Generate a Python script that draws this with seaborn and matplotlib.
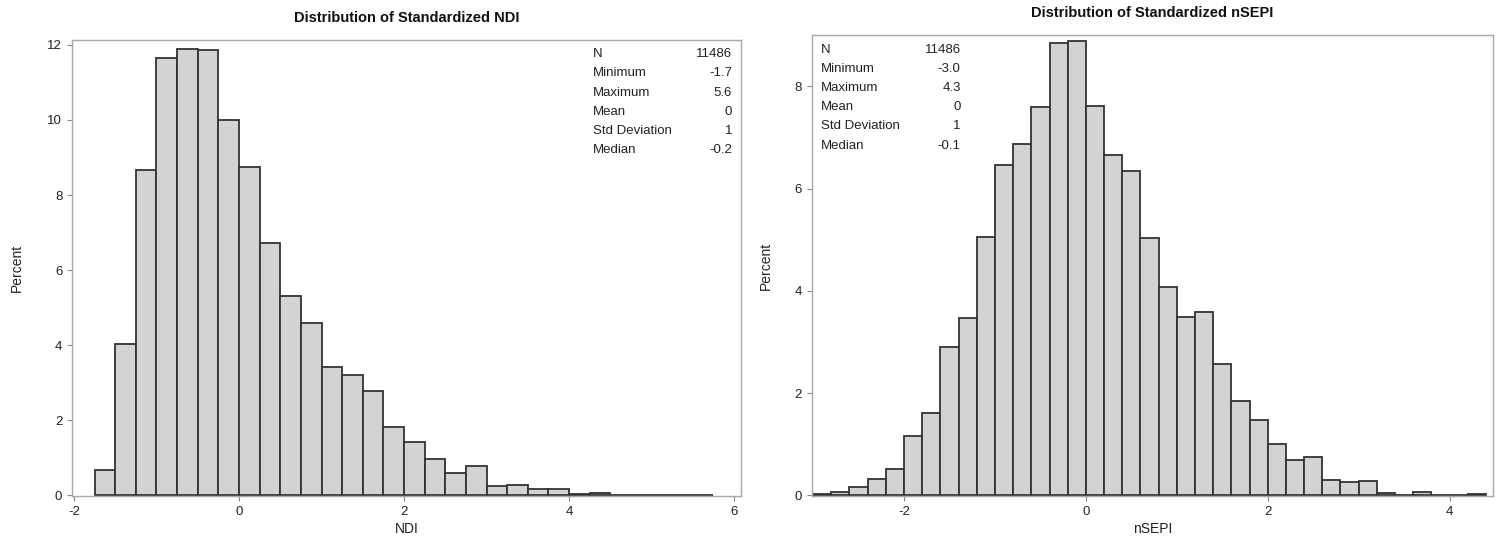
import matplotlib
matplotlib.use("Agg")
import matplotlib.pyplot as plt
import seaborn as sns

# bin starts and percent heights
ndi_bin_start = [-1.75, -1.5, -1.25, -1.0, -0.75, -0.5, -0.25, 0.0, 0.25, 0.5,
                 0.75, 1.0, 1.25, 1.5, 1.75, 2.0, 2.25, 2.5, 2.75, 3.0,
                 3.25, 3.5, 3.75, 4.0, 4.25, 4.5, 4.75, 5.0, 5.25, 5.5]
ndi_pct = [0.67, 4.02, 8.66, 11.64, 11.90, 11.86, 10.00, 8.74, 6.73, 5.32,
           4.59, 3.42, 3.20, 2.78, 1.82, 1.41, 0.98, 0.60, 0.77, 0.25,
           0.28, 0.17, 0.17, 0.04, 0.06, 0.0, 0.0, 0.0, 0.0, 0.01]
ndi_width = 0.25

sepi_bin_start = [-3.0, -2.8, -2.6, -2.4, -2.2, -2.0, -1.8, -1.6, -1.4, -1.2,
                  -1.0, -0.8, -0.6, -0.4, -0.2, 0.0, 0.2, 0.4, 0.6, 0.8,
                  1.0, 1.2, 1.4, 1.6, 1.8, 2.0, 2.2, 2.4, 2.6, 2.8,
                  3.0, 3.2, 3.4, 3.6, 3.8, 4.0, 4.2]
sepi_pct = [0.02, 0.07, 0.17, 0.33, 0.52, 1.16, 1.61, 2.90, 3.47, 5.06,
            6.45, 6.87, 7.59, 8.85, 8.88, 7.62, 6.65, 6.35, 5.03, 4.08,
            3.49, 3.58, 2.56, 1.84, 1.47, 1.00, 0.69, 0.75, 0.31, 0.27,
            0.28, 0.04, 0.01, 0.06, 0.0, 0.0, 0.02]
sepi_width = 0.2

stat_names = ["N", "Minimum", "Maximum", "Mean", "Std Deviation", "Median"]
ndi_stats = ["11486", "-1.7", "5.6", "0", "1", "-0.2"]
sepi_stats = ["11486", "-3.0", "4.3", "0", "1", "-0.1"]

sns.set_style("white")
plt.rcParams['font.family'] = ['Liberation Sans', 'DejaVu Sans']
plt.rcParams['axes.unicode_minus'] = False

fig = plt.figure(figsize=(15, 5.5), dpi=100)
ax1 = fig.add_axes([0.048, 0.0973, 0.4458, 0.830])
ax2 = fig.add_axes([0.5411, 0.0973, 0.4544, 0.839])

spine_col = "#a8a8a8"
text_col = "#222222"


def draw_hist(ax, starts, pct, width, xlabel, title, xlim, ylim, yticks):
    mids = [s + width / 2 for s in starts]
    edges = list(starts) + [starts[-1] + width]
    sns.histplot(x=mids, weights=pct, bins=edges, stat="count", ax=ax,
                 color="#d3d3d3", alpha=1.0, edgecolor="#333333", linewidth=1.3)
    ax.set_yticks(yticks)
    ax.set_xticks([-2, 0, 2, 4, 6])
    ax.set_xlim(*xlim)
    ax.set_ylim(*ylim)
    for sp in ax.spines.values():
        sp.set_color(spine_col)
        sp.set_linewidth(1.0)
    ax.tick_params(axis="both", which="both", length=3.5, width=0.8, color="#888888",
                   labelsize=9.5, labelcolor=text_col, pad=3.5, direction="out",
                   bottom=True, left=True)
    ax.set_xlabel(xlabel, fontsize=10, color=text_col)
    ax.set_ylabel("Percent", fontsize=10, color=text_col)
    ax.set_title(title, fontsize=10.5, fontweight="bold", color="#111111", pad=13)


draw_hist(ax1, ndi_bin_start, ndi_pct, ndi_width, "NDI",
          "Distribution of Standardized NDI", (-2.024, 6.08), (-0.03, 12.13),
          [0, 2, 4, 6, 8, 10, 12])
draw_hist(ax2, sepi_bin_start, sepi_pct, sepi_width, "nSEPI",
          "Distribution of Standardized nSEPI", (-3.016, 4.48), (-0.02, 9.0),
          [0, 2, 4, 6, 8])

ax1.yaxis.set_label_coords(-0.072, 0.5)
ax1.xaxis.set_label_coords(0.5, -0.056)
ax2.yaxis.set_label_coords(-0.057, 0.5)
ax2.xaxis.set_label_coords(0.5, -0.055)

# inset statistics tables
for i, (name, val) in enumerate(zip(stat_names, ndi_stats)):
    y = 0.969 - i * 19.2 / 456.5
    ax1.text(0.779, y, name, transform=ax1.transAxes, fontsize=9.5,
             color=text_col, ha="left", va="center")
    ax1.text(0.987, y, val, transform=ax1.transAxes, fontsize=9.5,
             color=text_col, ha="right", va="center")

for i, (name, val) in enumerate(zip(stat_names, sepi_stats)):
    y = 0.9675 - i * 19.1 / 461.5
    ax2.text(0.0136, y, name, transform=ax2.transAxes, fontsize=9.5,
             color=text_col, ha="left", va="center")
    ax2.text(0.2186, y, val, transform=ax2.transAxes, fontsize=9.5,
             color=text_col, ha="right", va="center")

fig.savefig("out.png", dpi=100, facecolor="white")
